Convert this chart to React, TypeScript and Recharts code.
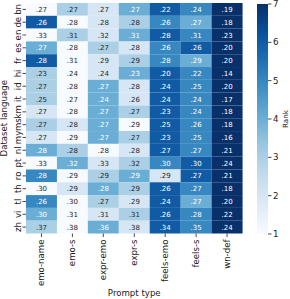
import React from "react";
import { BarChart, Bar, XAxis, YAxis, Cell, LabelList } from "recharts";

const languages = ["bn", "de", "en", "es", "fr", "hi", "id", "it", "km", "ms", "my", "nl", "pt", "ro", "th", "tl", "vi", "zh"];
const promptTypes = ["emo-name", "emo-s", "expr-emo", "expr-s", "feels-emo", "feels-s", "wn-def"];

// scores per prompt type (one entry per language, same order as languages)
const emoName = [0.27, 0.26, 0.33, 0.27, 0.28, 0.23, 0.27, 0.25, 0.27, 0.27, 0.27, 0.28, 0.33, 0.28, 0.3, 0.26, 0.3, 0.37];
const emoS = [0.27, 0.28, 0.31, 0.28, 0.31, 0.24, 0.28, 0.27, 0.28, 0.28, 0.29, 0.28, 0.32, 0.29, 0.29, 0.3, 0.31, 0.38];
const exprEmo = [0.27, 0.28, 0.32, 0.27, 0.29, 0.24, 0.27, 0.24, 0.27, 0.27, 0.27, 0.28, 0.33, 0.29, 0.28, 0.27, 0.31, 0.36];
const exprS = [0.27, 0.28, 0.31, 0.28, 0.29, 0.23, 0.28, 0.26, 0.27, 0.29, 0.27, 0.28, 0.32, 0.29, 0.29, 0.29, 0.31, 0.38];
const feelsEmo = [0.22, 0.26, 0.28, 0.26, 0.28, 0.2, 0.24, 0.24, 0.23, 0.25, 0.23, 0.27, 0.3, 0.29, 0.26, 0.24, 0.26, 0.34];
const feelsS = [0.24, 0.27, 0.31, 0.26, 0.29, 0.22, 0.25, 0.24, 0.24, 0.26, 0.25, 0.27, 0.3, 0.27, 0.27, 0.27, 0.28, 0.35];
const wnDef = [0.19, 0.18, 0.23, 0.2, 0.2, 0.14, 0.2, 0.17, 0.18, 0.18, 0.16, 0.21, 0.24, 0.21, 0.18, 0.2, 0.22, 0.24];

// rank within each language row (drives the colour)
const rankEmoName = [1, 6, 1, 4, 6, 3, 3, 3, 2, 3, 2, 4, 1, 5, 1, 5, 4, 3];
const rankEmoS = [3, 1, 3, 1, 1, 1, 1, 1, 1, 2, 1, 3, 4, 1, 2, 1, 1, 1];
const rankExprEmo = [2, 2, 2, 3, 2, 2, 4, 4, 4, 4, 4, 1, 2, 3, 4, 3, 2, 4];
const rankExprS = [4, 3, 4, 2, 3, 4, 2, 2, 3, 1, 3, 2, 3, 4, 3, 2, 3, 2];
const rankFeelsEmo = [6, 5, 6, 5, 5, 6, 6, 6, 6, 6, 6, 6, 5, 2, 6, 6, 6, 6];
const rankFeelsS = [5, 4, 5, 6, 4, 5, 5, 5, 5, 5, 5, 5, 6, 6, 5, 4, 5, 5];
const rankWnDef = [7, 7, 7, 7, 7, 7, 7, 7, 7, 7, 7, 7, 7, 7, 7, 7, 7, 7];

const rankTicks = [1, 2, 3, 4, 5, 6, 7];

const values = [emoName, emoS, exprEmo, exprS, feelsEmo, feelsS, wnDef];
const ranks = [rankEmoName, rankEmoS, rankExprEmo, rankExprS, rankFeelsEmo, rankFeelsS, rankWnDef];

// Blues colormap sampled at rank 1..7
const rankColors = ["#f7fbff", "#d6e6f4", "#abd0e6", "#6aaed6", "#3787c0", "#105ba4", "#08306b"];
const bluesStops = ["#f7fbff", "#deebf7", "#c6dbef", "#9ecae1", "#6baed6", "#4292c6", "#2171b5", "#08519c", "#08306b"];

const FONT = "'DejaVu Sans', sans-serif";
const INK = "#1a1a1a";

// one stacked unit segment per language in every prompt-type column
const table = promptTypes.map((p) => {
    const row: Record<string, any> = { prompt: p };
    languages.forEach((l) => {
        row[l] = 1;
    });
    return row;
});

const fmt = (v: number) => v.toFixed(2).replace(/^0/, "");

const LangTick = (props: any) => {
    const { x, y, payload } = props;
    return (
        <text x={x} y={y} transform={`rotate(-90 ${x} ${y})`} textAnchor="middle" fontSize={8.6} fontFamily={FONT} fill={INK}>
            {languages[Math.floor(payload.value)]}
        </text>
    );
};

const PromptTick = (props: any) => {
    const { x, y, payload } = props;
    const bx = x + 3;
    return (
        <text x={bx} y={y} transform={`rotate(-90 ${bx} ${y})`} textAnchor="end" fontSize={8.6} fontFamily={FONT} fill={INK}>
            {payload.value}
        </text>
    );
};

const makeCellLabel = (li: number) => (props: any) => {
    const { x, y, width, height, index } = props;
    const r = ranks[index][li];
    return (
        <text
            x={x + width / 2}
            y={y + height / 2}
            dy="0.36em"
            textAnchor="middle"
            fontSize={7}
            fontFamily={FONT}
            fill={r >= 4 ? "#ffffff" : "#262626"}
        >
            {fmt(values[index][li])}
        </text>
    );
};

export default function App() {
    return (
        <div style={{ position: "absolute", left: 0, top: 0, width: 290, height: 299, background: "#fff" }}>
            <div style={{ position: "absolute", left: 0, top: 0 }}>
                <BarChart width={290} height={299} data={table} margin={{ top: 3, right: 47.5, bottom: 0, left: 0 }} barCategoryGap={0} barGap={0}>
                    <XAxis
                        dataKey="prompt"
                        type="category"
                        interval={0}
                        height={65.5}
                        axisLine={false}
                        tickLine={{ stroke: INK, strokeWidth: 0.8 }}
                        tickSize={3.5}
                        tickMargin={2.5}
                        tick={<PromptTick />}
                        label={{ value: "Prompt type", position: "insideBottom", offset: 3, style: { fontSize: 8.6, fontFamily: FONT, fill: INK } }}
                    />
                    <YAxis
                        type="number"
                        domain={[0, 18]}
                        reversed
                        ticks={languages.map((_, i) => i + 0.5)}
                        interval={0}
                        width={26}
                        axisLine={false}
                        tickLine={{ stroke: INK, strokeWidth: 0.8 }}
                        tickSize={3.5}
                        tickMargin={1.5}
                        tick={<LangTick />}
                        label={{
                            value: "Dataset language",
                            angle: -90,
                            position: "insideLeft",
                            offset: 4,
                            style: { textAnchor: "middle", fontSize: 8.6, fontFamily: FONT, fill: INK },
                        }}
                    />
                    {languages.map((l, li) => (
                        <Bar key={l} dataKey={l} stackId="heat" isAnimationActive={false}>
                            {promptTypes.map((p, pi) => (
                                <Cell key={p} fill={rankColors[ranks[pi][li] - 1]} />
                            ))}
                            <LabelList content={makeCellLabel(li)} />
                        </Bar>
                    ))}
                </BarChart>
            </div>
            <div style={{ position: "absolute", left: 0, top: 0 }}>
                <BarChart width={290} height={299} data={[{ name: "rank", span: [1, 7] }]} margin={{ top: 4, right: 0, bottom: 65, left: 257 }} barCategoryGap={0}>
                    <defs>
                        <linearGradient id="bluesGrad" x1="0" y1="1" x2="0" y2="0">
                            {bluesStops.map((c, i) => (
                                <stop key={c} offset={i / (bluesStops.length - 1)} stopColor={c} />
                            ))}
                        </linearGradient>
                    </defs>
                    <XAxis dataKey="name" hide />
                    <YAxis
                        orientation="right"
                        type="number"
                        domain={[1, 7]}
                        ticks={rankTicks}
                        interval={0}
                        width={22}
                        axisLine={false}
                        tickLine={{ stroke: INK, strokeWidth: 0.8 }}
                        tickSize={3.5}
                        tickMargin={1.5}
                        tick={{ fontSize: 8.6, fontFamily: FONT, fill: INK }}
                        label={{
                            value: "Rank",
                            angle: -90,
                            position: "insideRight",
                            offset: 4.5,
                            style: { textAnchor: "middle", fontSize: 7.2, fontFamily: FONT, fill: INK },
                        }}
                    />
                    <Bar dataKey="span" fill="url(#bluesGrad)" isAnimationActive={false} />
                </BarChart>
            </div>
        </div>
    );
}
